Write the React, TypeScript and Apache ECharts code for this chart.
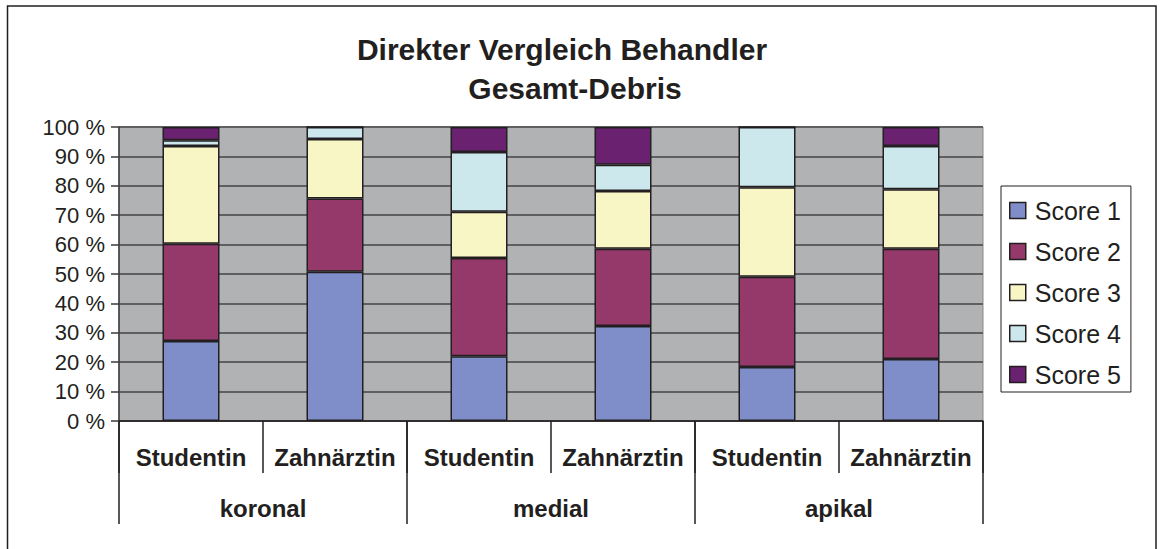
import React, { useEffect, useRef } from "react";
import * as echarts from "echarts";

const subCategories = ["Studentin", "Zahnärztin", "Studentin", "Zahnärztin", "Studentin", "Zahnärztin"];
const groupCategories = ["koronal", "medial", "apikal"];
const seriesNames = ["Score 1", "Score 2", "Score 3", "Score 4", "Score 5"];
const score1 = [27.2, 50.8, 22.0, 32.3, 18.4, 21.1];
const score2 = [33.1, 24.9, 33.4, 26.3, 30.7, 37.5];
const score3 = [33.2, 20.2, 15.8, 19.6, 30.4, 20.2];
const score4 = [2.0, 4.1, 20.3, 9.0, 20.5, 14.7];
const score5 = [4.5, 0.0, 8.5, 12.8, 0.0, 6.5];
const yTicks = [0, 10, 20, 30, 40, 50, 60, 70, 80, 90, 100];
const titleLines = ["Direkter Vergleich Behandler", "Gesamt-Debris"];

const colors = ["#7f8ec8", "#95396b", "#f8f6c4", "#cce8ec", "#6a2270"];
const TEXT = "#231f20";
const FONT = "'Liberation Sans', Arial, Helvetica, sans-serif";

export default function App() {
  const ref = useRef<HTMLDivElement>(null);
  useEffect(() => {
    document.body.style.margin = "0";
    const chart = echarts.init(ref.current!, null, { renderer: "svg" });
    const values = [score1, score2, score3, score4, score5];
    chart.setOption({
      animation: false,
      backgroundColor: "#ffffff",
      textStyle: { fontFamily: FONT, color: TEXT },
      graphic: [
        {
          type: "rect",
          shape: { x: 7.5, y: 6, width: 1148.5, height: 600 },
          style: { fill: "none", stroke: "#231f20", lineWidth: 1.5 },
          silent: true,
          z: -10,
        },
        {
          type: "text",
          x: 562,
          y: 49,
          style: {
            text: titleLines[0],
            fontFamily: FONT,
            fontSize: 30,
            fontWeight: "bold",
            fill: TEXT,
            align: "center",
            verticalAlign: "middle",
          },
        },
        {
          type: "text",
          x: 575,
          y: 88,
          style: {
            text: titleLines[1],
            fontFamily: FONT,
            fontSize: 30,
            fontWeight: "bold",
            fill: TEXT,
            align: "center",
            verticalAlign: "middle",
          },
        },
      ],
      legend: {
        orient: "vertical",
        left: 1001,
        top: 186,
        width: 131,
        data: seriesNames,
        icon: "rect",
        itemWidth: 16,
        itemHeight: 16,
        itemGap: 16,
        padding: [12, 10, 5, 8],
        borderColor: "#231f20",
        borderWidth: 1,
        backgroundColor: "#ffffff",
        textStyle: { fontFamily: FONT, fontSize: 25, color: TEXT, padding: [0, 0, 0, 4] },
        itemStyle: { borderColor: "#231f20", borderWidth: 1.5 },
      },
      grid: {
        left: 119,
        right: 177,
        top: 127,
        bottom: 128,
        show: true,
        backgroundColor: "#b1b2b4",
        borderColor: "#8a8a8a",
        borderWidth: 1,
      },
      xAxis: [
        {
          type: "category",
          data: subCategories,
          position: "bottom",
          axisLine: { show: true, lineStyle: { color: "#231f20", width: 1.5 } },
          axisTick: { show: true, length: 52, interval: 0, lineStyle: { color: "#231f20", width: 1.5 } },
          axisLabel: { interval: 0, fontFamily: FONT, fontSize: 24, fontWeight: "bold", color: TEXT, margin: 24 },
          splitLine: { show: false },
        },
        {
          type: "category",
          data: groupCategories,
          position: "bottom",
          offset: 0,
          axisLine: { show: false },
          axisTick: { show: true, length: 103, interval: 0, lineStyle: { color: "#231f20", width: 1.5 } },
          axisLabel: { interval: 0, fontFamily: FONT, fontSize: 24, fontWeight: "bold", color: TEXT, margin: 75 },
          splitLine: { show: false },
        },
      ],
      yAxis: {
        type: "value",
        min: yTicks[0],
        max: yTicks[yTicks.length - 1],
        interval: 10,
        axisLine: { show: true, lineStyle: { color: "#3a3a3a", width: 1.5 } },
        axisTick: { show: true, length: 8, lineStyle: { color: "#3a3a3a", width: 1.5 } },
        axisLabel: { formatter: "{value} %", fontFamily: FONT, fontSize: 22, color: TEXT, margin: 14 },
        splitLine: { show: true, lineStyle: { color: "#5f5f61", width: 2 } },
      },
      series: seriesNames.map((name, i) => ({
        name,
        type: "bar",
        stack: "total",
        xAxisIndex: 0,
        barWidth: 57,
        data: values[i],
        itemStyle: { color: colors[i], borderColor: "#231f20", borderWidth: 1.5 },
      })),
    });
    return () => chart.dispose();
  }, []);
  return <div ref={ref} style={{ width: 1160, height: 549 }} />;
}
